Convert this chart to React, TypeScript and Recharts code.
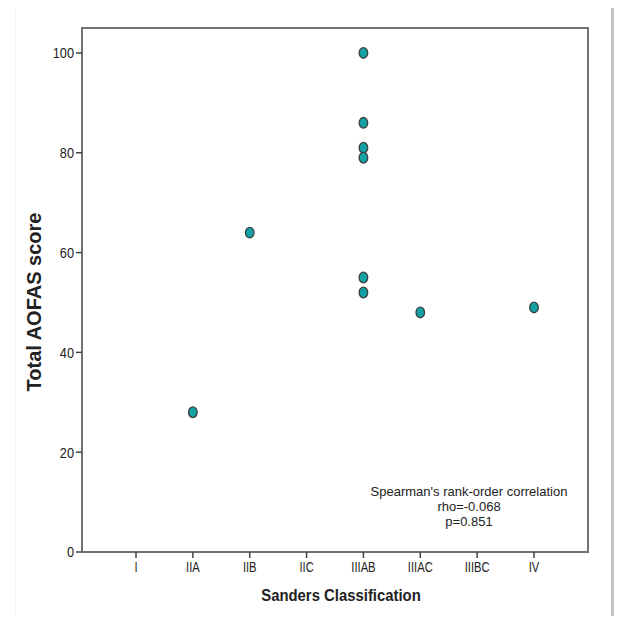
import React from 'react';
import { ScatterChart, Scatter, XAxis, YAxis, ReferenceArea, Label } from 'recharts';

const categories = ['I', 'IIA', 'IIB', 'IIC', 'IIIAB', 'IIIAC', 'IIIBC', 'IV'];
const pointClass = ['IIA', 'IIB', 'IIIAB', 'IIIAB', 'IIIAB', 'IIIAB', 'IIIAB', 'IIIAB', 'IIIAC', 'IV'];
const pointScore = [28, 64, 100, 86, 81, 79, 55, 52, 48, 49];
const yTicks = [0, 20, 40, 60, 80, 100];
const annotation = ["Spearman's rank-order correlation", 'rho=-0.068', 'p=0.851'];
const xTitle = 'Sanders Classification';
const yTitle = 'Total AOFAS score';

const data = pointClass.map((c, i) => ({ x: categories.indexOf(c) + 1, y: pointScore[i] }));
const xTicks = categories.map((_, i) => i + 1);

const FONT = '"Liberation Sans", Arial, Helvetica, sans-serif';
const FRAME = '#6e7474';
const TEXT = '#222222';

const Dot = (props: any) => {
  const { cx, cy } = props;
  if (cx == null || cy == null) return null;
  return <ellipse cx={cx} cy={cy} rx={4.3} ry={5.3} fill="#13a2a4" stroke="#3b3f3f" strokeWidth={1.3} />;
};

const XTick = (props: any) => {
  const { x, y, payload } = props;
  return (
    <g transform={`translate(${x},${y})`}>
      <text x={0} y={0} dy="0.75em" textAnchor="middle" transform="scale(0.8,1)" fontSize={14} fill={TEXT} fontFamily={FONT}>
        {categories[payload.value - 1]}
      </text>
    </g>
  );
};

const YTick = (props: any) => {
  const { x, y, payload } = props;
  return (
    <g transform={`translate(${x},${y})`}>
      <text x={0} y={0} dy="0.36em" textAnchor="end" transform="scale(0.85,1)" fontSize={15} fill={TEXT} fontFamily={FONT}>
        {payload.value}
      </text>
    </g>
  );
};

const XTitle = (props: any) => {
  const vb = props.viewBox || {};
  const cx = vb.x + vb.width / 2 + 6;
  const cy = vb.y + 43;
  return (
    <g transform={`translate(${cx},${cy})`}>
      <text x={0} y={0} dy="0.36em" textAnchor="middle" transform="scale(0.875,1)" fontSize={17} fontWeight="bold" fill={TEXT} fontFamily={FONT}>
        {xTitle}
      </text>
    </g>
  );
};

const YTitle = (props: any) => {
  const vb = props.viewBox || {};
  const cx = vb.x + 2;
  const cy = vb.y + vb.height / 2 + 12;
  return (
    <g transform={`translate(${cx},${cy}) rotate(-90)`}>
      <text x={0} y={0} dy="0.36em" textAnchor="middle" fontSize={20} fontWeight="bold" fill={TEXT} fontFamily={FONT}>
        {yTitle}
      </text>
    </g>
  );
};

export default function App() {
  return (
    <div style={{ position: 'relative', width: 622, height: 624, margin: -8, background: '#fff', overflow: 'hidden', fontFamily: FONT }}>
      <div style={{ position: 'absolute', left: 15, top: 3, width: 596, height: 660, borderTop: '1px solid #ececec', borderLeft: '1px solid #f2f2f2', background: '#fff' }} />
      <div style={{ position: 'absolute', left: 611, top: 3, width: 11, height: 660, background: 'linear-gradient(to right, #bdbdbd, #cdcdcd 45%, #e2e2e2)' }} />
      <div style={{ position: 'absolute', left: 0, top: 0 }}>
        <ScatterChart width={622} height={624} margin={{ top: 28, right: 34, bottom: 12, left: 32 }}>
          <XAxis
            type="number"
            dataKey="x"
            domain={[0.05, 8.95]}
            ticks={xTicks}
            allowDataOverflow
            height={60}
            tickSize={6}
            tickMargin={3}
            axisLine={{ stroke: FRAME, strokeWidth: 2 }}
            tickLine={{ stroke: '#444', strokeWidth: 1.5 }}
            tick={<XTick />}
          >
            <Label content={<XTitle />} />
          </XAxis>
          <YAxis
            type="number"
            dataKey="y"
            domain={[0, 105]}
            ticks={yTicks}
            allowDataOverflow
            width={50}
            tickSize={6}
            tickMargin={2}
            axisLine={{ stroke: FRAME, strokeWidth: 2 }}
            tickLine={{ stroke: '#444', strokeWidth: 1.5 }}
            tick={<YTick />}
          >
            <Label content={<YTitle />} />
          </YAxis>
          <ReferenceArea x1={0.05} x2={8.95} y1={0} y2={105} fill="none" fillOpacity={0} stroke={FRAME} strokeWidth={2} ifOverflow="visible" />
          <Scatter data={data} shape={<Dot />} isAnimationActive={false} />
        </ScatterChart>
      </div>
      <div style={{ position: 'absolute', left: 369, width: 200, top: 484, textAlign: 'center', fontSize: 13, lineHeight: '15px', color: TEXT, fontFamily: FONT }}>
        {annotation.map((t) => (
          <div key={t}>{t}</div>
        ))}
      </div>
    </div>
  );
}
